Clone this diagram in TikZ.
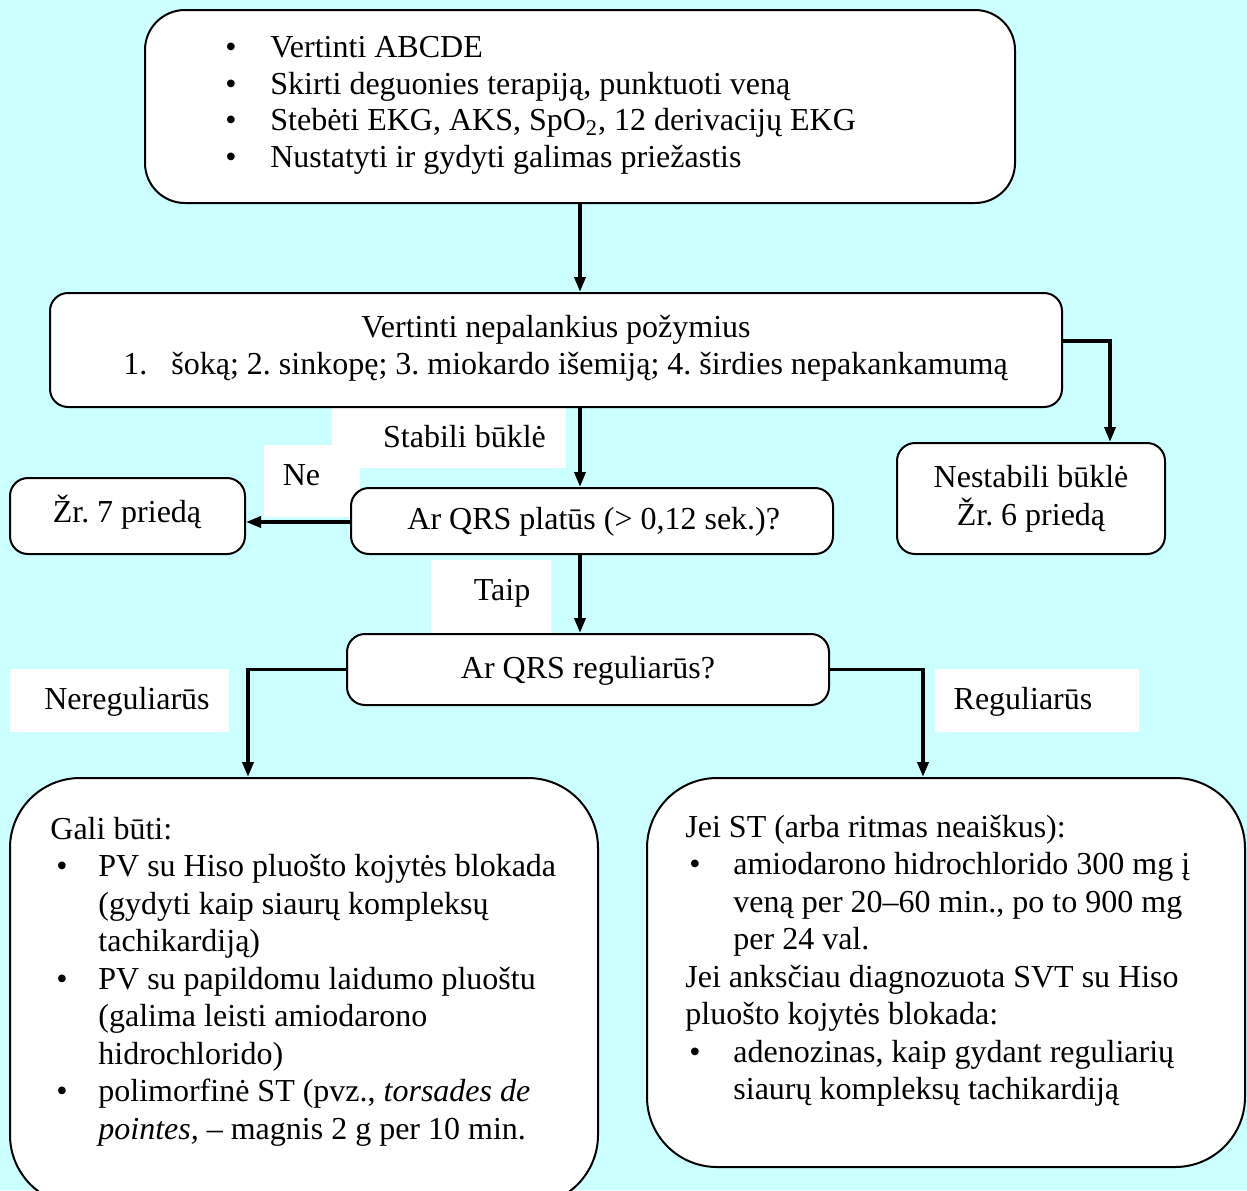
\documentclass[tikz,border=0pt]{standalone}
\usepackage{fontspec}
\setmainfont{Liberation Serif}
\usetikzlibrary{arrows.meta}
\definecolor{bgcyan}{RGB}{204,255,255}
\frenchspacing
% bullet set in a box of given width, text follows at its right end
\newcommand\itembul[1]{\makebox[#1][l]{•}}
\begin{document}
\begin{tikzpicture}[x=0.5pt,y=-0.5pt,
  box/.style={draw=black, line width=1pt, fill=white, rounded corners=9pt, inner sep=0pt},
  bigbox/.style={box, rounded corners=35pt},
  topbox/.style={box, rounded corners=20pt},
  tag/.style={fill=white, inner sep=0pt},
  txt/.style={inner sep=0pt, anchor=base west, font=\fontsize{16pt}{18.5pt}\selectfont},
  ctxt/.style={txt, anchor=base},
  conn/.style={line width=1.8pt, -{Triangle[width=5.5pt,length=7.5pt]}}]

\useasboundingbox (0,0) rectangle (1247,1190);
\clip (0,0) rectangle (1247,1190);
\fill[bgcyan] (0,0) rectangle (1247,1190);

% white label backgrounds
\node[tag, minimum width=117pt, minimum height=30.5pt] (stabtag) at (449,437.5) {};
\node[tag, minimum width=48pt,  minimum height=36pt]   (netag)   at (312,481) {};
\node[tag, minimum width=60pt,  minimum height=37pt]   (taiptag) at (491,597) {};
\node[tag, minimum width=109.5pt, minimum height=31.5pt] (neregtag) at (119.5,700.5) {};
\node[tag, minimum width=102pt, minimum height=31.5pt] (regtag)  at (1037,700.5) {};

% boxes
\node[topbox, minimum width=435pt, minimum height=96.5pt] (top) at (580,106.5) {};
\node[box, minimum width=506pt, minimum height=57pt] (eval) at (556,350) {};
\node[box, minimum width=134pt, minimum height=55.5pt] (unstable) at (1031,498.5) {};
\node[box, minimum width=117.5pt, minimum height=38pt] (see7) at (127.5,516) {};
\node[box, minimum width=241pt, minimum height=33pt] (wide) at (592,521) {};
\node[box, minimum width=241pt, minimum height=35.5pt] (regular) at (588,669.5) {};
\node[bigbox, minimum width=294pt, minimum height=213.5pt] (irr) at (304,991.5) {};
\node[bigbox, minimum width=299pt, minimum height=194.5pt] (regbox) at (946,972.5) {};

% main vertical line of the chart
\coordinate (spine) at (580,0);

% connectors
\draw[conn] (top.south) -- (top.south |- eval.north);
\draw[conn] ([yshift=4.5pt]eval.east) -| ([xshift=39.5pt]unstable.north);
\draw[conn] (eval.south -| spine) -- (wide.north -| spine);
\draw[conn] ([yshift=-0.5pt]wide.west) -- ([yshift=-0.5pt]wide.west -| see7.east);
\draw[conn] (wide.south -| spine) -- (regular.north -| spine);
\draw[conn] (regular.west) -| ([xshift=-28pt]irr.north);
\draw[conn] (regular.east) -| ([xshift=-11.5pt]regbox.north);

% top box text
\node[txt] (t1) at (225,57)  {\itembul{22.5pt}Vertinti ABCDE};
\node[txt] (t2) at (225,94)  {\itembul{22.5pt}Skirti deguonies terapiją, punktuoti veną};
\node[txt] (t3) at (225,130) {\itembul{22.5pt}Stebėti EKG, AKS, SpO\textsubscript{2}, 12 derivacijų EKG};
\node[txt] (t4) at (225,167) {\itembul{22.5pt}Nustatyti ir gydyti galimas priežastis};

% assessment box text
\node[ctxt] (e1) at (556,337) {Vertinti nepalankius požymius};
\node[txt]  (e2n) at (123,374) {1.};
\node[txt]  (e2) at (171,374) {šoką; 2. sinkopę; 3. miokardo išemiją; 4. širdies nepakankamumą};

% labels
\node[ctxt] (stab) at (464.5,447) {Stabili būklė};
\node[ctxt] (ne) at (301.5,485) {Ne};
\node[ctxt] (taip) at (502,600) {Taip};
\node[ctxt] (nereg) at (127,709) {Nereguliarūs};
\node[ctxt] (reg) at (1023,709) {Reguliarūs};

% small boxes text
\node[ctxt] (s7) at (127,522) {Žr. 7 priedą};
\node[txt]  (w1) at (407,529) {Ar QRS platūs (> 0,12 sek.)?};
\node[ctxt] (u1) at (1031,487) {Nestabili būklė};
\node[ctxt] (u2) at (1031,525) {Žr. 6 priedą};
\node[ctxt] (r1) at (588,678) {Ar QRS reguliarūs?};

% irregular rhythm box text
\node[txt] (i1) at (50,839)    {Gali būti:};
\node[txt] (i2) at (56,876.5)  {\itembul{21pt}PV su Hiso pluošto kojytės blokada};
\node[txt] (i3) at (98,914)    {(gydyti kaip siaurų kompleksų};
\node[txt] (i4) at (98,951.5)  {tachikardiją)};
\node[txt] (i5) at (56,989)    {\itembul{21pt}PV su papildomu laidumo pluoštu};
\node[txt] (i6) at (98,1026.5) {(galima leisti amiodarono};
\node[txt] (i7) at (98,1064)   {hidrochlorido)};
\node[txt] (i8) at (56,1101.5) {\itembul{21pt}polimorfinė ST (pvz., \textit{torsades de}};
\node[txt] (i9) at (98,1139)   {\textit{pointes,} – magnis 2 g per 10 min.};

% regular rhythm box text
\node[txt] (g1) at (685,837)    {Jei ST (arba ritmas neaiškus):};
\node[txt] (g2) at (689,874.5)  {\itembul{22pt}amiodarono hidrochlorido 300 mg į};
\node[txt] (g3) at (733,912)    {veną per 20–60 min., po to 900 mg};
\node[txt] (g4) at (733,949.5)  {per 24 val.};
\node[txt] (g5) at (685,987)    {Jei anksčiau diagnozuota SVT su Hiso};
\node[txt] (g6) at (685,1024.5) {pluošto kojytės blokada:};
\node[txt] (g7) at (689,1062)   {\itembul{22pt}adenozinas, kaip gydant reguliarių};
\node[txt] (g8) at (733,1099.5) {siaurų kompleksų tachikardiją};
\end{tikzpicture}
\end{document}
